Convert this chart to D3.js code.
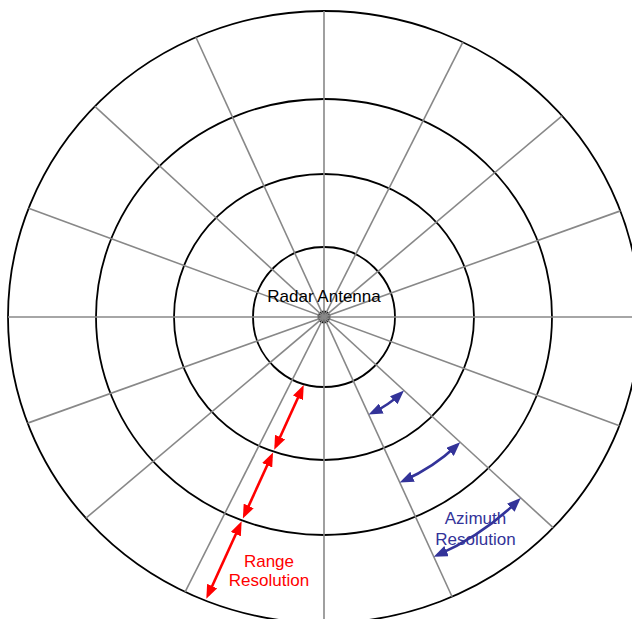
<!DOCTYPE html>
<html>
<head>
<meta charset="utf-8">
<script src="https://cdn.jsdelivr.net/npm/d3@7"></script>
<style>
  body { margin: 0; background: #fff; }
  svg { display: block; }
  text { font-family: 'Liberation Sans', Arial, sans-serif; font-size: 17px; }
</style>
</head>
<body>
<svg></svg>
<script>
// range rings (ring index 1..4) and spoke directions (compass degrees, each is a full diameter)
const rings = [1, 2, 3, 4];
const spokeAngles = [0, 26.8, 49.8, 70.3, 90, 110.2, 132.6, 155.4];

// range resolution arrows: from ring -> to ring
const rangeArrows = [[1, 2], [2, 3], [3, 4]];
// azimuth resolution arrows: ring position (band middle) between two spokes
const azimuthArrows = [1.5, 2.5, 3.5];
const azimuthSpokes = [132.6, 155.4];

const centerLabel = 'Radar Antenna';
const rangeLabel = ['Range', 'Resolution'];
const azimuthLabel = ['Azimuth', 'Resolution'];

var svg = d3.select('svg').attr('width', 632).attr('height', 619);

const cx = 324;
const cy = 317;

// rings are a bit squashed in the picture, so x and y have their own scale
const rx = d3.scaleLinear().domain([0, 1, 2, 3, 4]).range([0, 71, 150, 228, 316]);
const ry = d3.scaleLinear().domain([0, 1, 2, 3, 4]).range([0, 70, 143, 218, 306]);

const rad = (a) => (a * Math.PI) / 180;

// distance from center to ring k along compass angle a
function polarR(k, a) {
  const s = Math.sin(rad(a));
  const c = Math.cos(rad(a));
  return 1 / Math.sqrt((s / rx(k)) ** 2 + (c / ry(k)) ** 2);
}
function pointAt(k, a) {
  const r = polarR(k, a);
  return [cx + r * Math.sin(rad(a)), cy - r * Math.cos(rad(a))];
}

const defs = svg.append('defs');
function addMarker(id, color) {
  defs
    .append('marker')
    .attr('id', id)
    .attr('viewBox', '0 0 14 11')
    .attr('refX', 10)
    .attr('refY', 5.5)
    .attr('markerWidth', 14)
    .attr('markerHeight', 11)
    .attr('markerUnits', 'userSpaceOnUse')
    .attr('orient', 'auto-start-reverse')
    .append('path')
    .attr('d', 'M0,0 L14,5.5 L0,11 z')
    .attr('fill', color);
}
addMarker('head-red', '#ff0000');
addMarker('head-blue', '#333399');

const g = svg.append('g');

// 距離環
g.selectAll('ellipse.ring')
  .data(rings)
  .enter()
  .append('ellipse')
  .attr('class', 'ring')
  .attr('cx', cx)
  .attr('cy', cy)
  .attr('rx', (d) => rx(d))
  .attr('ry', (d) => ry(d))
  .attr('fill', 'none')
  .attr('stroke', '#000')
  .attr('stroke-width', 1.8);

// antenna dot
g.append('circle')
  .attr('cx', cx)
  .attr('cy', cy)
  .attr('r', 6.5)
  .attr('fill', '#000');

// spokes, from one side of the outer ring to the other
const outer = d3.max(rings);
g.selectAll('line.spoke')
  .data(spokeAngles)
  .enter()
  .append('line')
  .attr('class', 'spoke')
  .attr('x1', (d) => pointAt(outer, d)[0])
  .attr('y1', (d) => pointAt(outer, d)[1])
  .attr('x2', (d) => pointAt(outer, d + 180)[0])
  .attr('y2', (d) => pointAt(outer, d + 180)[1])
  .attr('stroke', '#888')
  .attr('stroke-width', 1.6);

// range arrows run on a line just right of the lower-left spoke
const lineAngle = 204.5;
const lineOffset = 9.8;
const dir = [Math.sin(rad(lineAngle)), -Math.cos(rad(lineAngle))];
const nrm = [dir[1], -dir[0]];
const base = [cx + lineOffset * nrm[0], cy + lineOffset * nrm[1]];

// where the offset line crosses ring k
function lineHit(k) {
  const a = rx(k);
  const b = ry(k);
  const px = base[0] - cx;
  const py = base[1] - cy;
  const A = (dir[0] / a) ** 2 + (dir[1] / b) ** 2;
  const B = 2 * ((px * dir[0]) / (a * a) + (py * dir[1]) / (b * b));
  const C = (px / a) ** 2 + (py / b) ** 2 - 1;
  return (-B + Math.sqrt(B * B - 4 * A * C)) / (2 * A);
}
const onLine = (t) => [base[0] + t * dir[0], base[1] + t * dir[1]];

// tips sit right on the rings, 4px is the part of the head beyond the path end
g.selectAll('path.range')
  .data(rangeArrows)
  .enter()
  .append('path')
  .attr('class', 'range')
  .attr('d', (d) => {
    const t0 = lineHit(d[0]) + 1 + 4;
    const t1 = lineHit(d[1]) - 2 - 4;
    return 'M' + onLine(t0) + 'L' + onLine(t1);
  })
  .attr('fill', 'none')
  .attr('stroke', '#ff0000')
  .attr('stroke-width', 2.6)
  .attr('marker-start', 'url(#head-red)')
  .attr('marker-end', 'url(#head-red)');

// azimuth arrows: arcs from spoke to spoke
g.selectAll('path.azimuth')
  .data(azimuthArrows)
  .enter()
  .append('path')
  .attr('class', 'azimuth')
  .attr('d', (d) => {
    const r = polarR(d, 145);
    const inset = (4 / r) * (180 / Math.PI);
    const p0 = pointAt(d, azimuthSpokes[0] + inset);
    const p1 = pointAt(d, azimuthSpokes[1] - inset);
    return 'M' + p0 + 'A' + rx(d) + ',' + ry(d) + ' 0 0 1 ' + p1;
  })
  .attr('fill', 'none')
  .attr('stroke', '#333399')
  .attr('stroke-width', 2.6)
  .attr('marker-start', 'url(#head-blue)')
  .attr('marker-end', 'url(#head-blue)');

// 文字
svg.append('text')
  .attr('x', cx)
  .attr('y', 302)
  .attr('text-anchor', 'middle')
  .attr('fill', '#000')
  .text(centerLabel);

svg.selectAll('text.range-label')
  .data(rangeLabel)
  .enter()
  .append('text')
  .attr('class', 'range-label')
  .attr('x', 269)
  .attr('y', (d, i) => 566.5 + i * 19.5)
  .attr('text-anchor', 'middle')
  .attr('fill', '#ff0000')
  .text((d) => d);

svg.selectAll('text.azimuth-label')
  .data(azimuthLabel)
  .enter()
  .append('text')
  .attr('class', 'azimuth-label')
  .attr('x', 475.5)
  .attr('y', (d, i) => 524 + i * 20.5)
  .attr('text-anchor', 'middle')
  .attr('fill', '#333399')
  .text((d) => d);
</script>
</body>
</html>
